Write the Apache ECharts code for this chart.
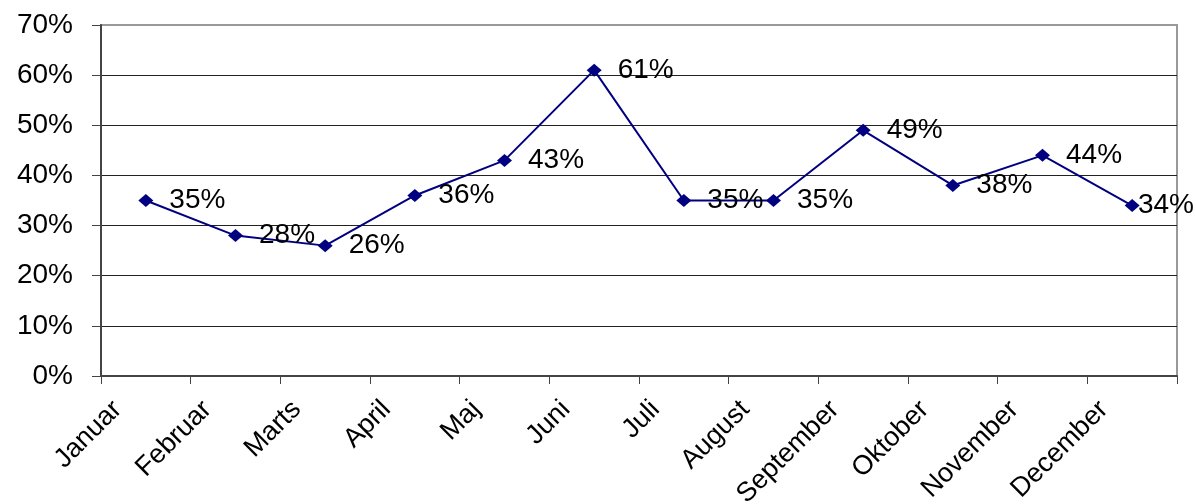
<!DOCTYPE html>
<html>
<head>
<meta charset="utf-8">
<script src="https://cdn.jsdelivr.net/npm/echarts@6/dist/echarts.min.js"></script>
<style>
html,body{margin:0;padding:0;background:#fff;}
#chart{width:1196px;height:504px;}
</style>
</head>
<body>
<div id="chart"></div>
<script>
var months = ['Januar','Februar','Marts','April','Maj','Juni','Juli','August','September','Oktober','November','December'];
var values = [35, 28, 26, 36, 43, 61, 35, 35, 49, 38, 44, 34];
var yMin = 0, yMax = 70, yStep = 10;

var FONT = "'Liberation Sans', Arial, sans-serif";
var W = 1196;
var chart = echarts.init(document.getElementById('chart'), null, {renderer: 'canvas'});
chart.setOption({
  animation: false,
  backgroundColor: '#fff',
  grid: {left: 101, top: 25, right: 19, bottom: 128, containLabel: false, outerBoundsMode: 'none',
         show: true, borderColor: '#999', borderWidth: 2, backgroundColor: 'transparent'},
  xAxis: {
    type: 'category',
    data: months,
    boundaryGap: true,
    axisLine: {show: true, lineStyle: {color: '#444', width: 2}},
    axisTick: {show: true, length: 8, lineStyle: {color: '#444', width: 1}},
    axisLabel: {
      rotate: 45, margin: 1, interval: 0,
      color: '#000', fontFamily: FONT, fontSize: 27,
      padding: [0, 40, 0, 0]
    },
    splitLine: {show: false}
  },
  yAxis: {
    type: 'value',
    min: yMin, max: yMax, interval: yStep,
    axisLine: {show: true, lineStyle: {color: '#444', width: 2}},
    axisTick: {show: true, length: 9, lineStyle: {color: '#444', width: 1}},
    axisLabel: {formatter: '{value}%', margin: 28, color: '#000', fontFamily: FONT, fontSize: 28},
    splitLine: {show: true, showMinLine: false, showMaxLine: false, lineStyle: {color: '#222', width: 1}}
  },
  series: [{
    type: 'line',
    data: values,
    symbol: 'diamond',
    symbolSize: [15, 13],
    itemStyle: {color: '#000080'},
    lineStyle: {color: '#000080', width: 2},
    label: {
      show: true, position: 'right', distance: 16,
      formatter: '{c}%', color: '#000', fontFamily: FONT, fontSize: 28
    },
    labelLayout: function (p) {
      var r = p.labelRect;
      if (r.x + r.width > W - 1) {
        return {x: W - 2 - r.width, y: r.y + r.height / 2, verticalAlign: 'middle'};
      }
      return {};
    },
    z: 5
  }]
});
</script>
</body>
</html>
